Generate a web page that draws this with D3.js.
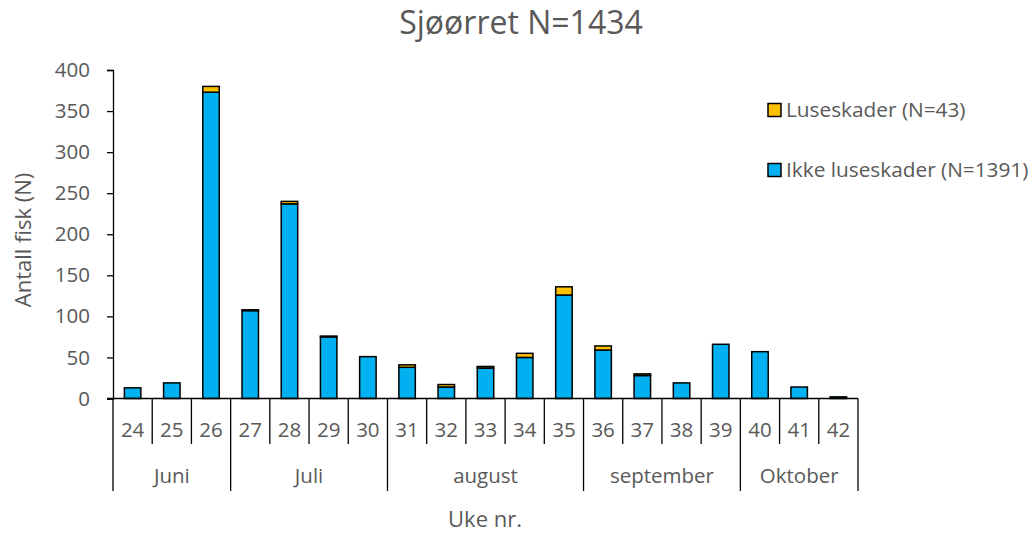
<!DOCTYPE html>
<html>
<head>
<meta charset="utf-8">
<script src="https://cdn.jsdelivr.net/npm/d3@7"></script>
<style>
  html, body { margin: 0; padding: 0; background: #fff; }
  svg { display: block; }
  text { font-family: "Open Sans", "Noto Sans", sans-serif; fill: #595959; }
</style>
</head>
<body>
<svg id="chart" width="1035" height="535"></svg>
<script>
// ---- Data ----
const weeks = ["24","25","26","27","28","29","30","31","32","33","34","35","36","37","38","39","40","41","42"];
const months = ["Juni","Juni","Juni","Juli","Juli","Juli","Juli","august","august","august","august","august","september","september","september","september","Oktober","Oktober","Oktober"];
const ikkeLuseskader = [13, 19, 373, 107, 237, 75, 51, 38, 14, 37, 50, 126, 59, 28, 19, 66, 57, 14, 2];
const luseskader     = [0, 0, 7, 1, 3, 1, 0, 3, 3, 2, 5, 10, 5, 2, 0, 0, 0, 0, 0];
const yTicks = [0, 50, 100, 150, 200, 250, 300, 350, 400];
const seriesNames = ["Luseskader (N=43)", "Ikke luseskader (N=1391)"];
const titleText = "Sjøørret N=1434";
const yLabel = "Antall fisk (N)";
const xLabel = "Uke nr.";

(function () {
const colBlue = "#00B0F0", colYellow = "#FFC000";
const tickFont = "20.5px", axisTitleFont = "22px";

const svg = d3.select("#chart");
const pLeft = 113, pRight = 858, pTop = 70, pBottom = 398.5;

const x = d3.scaleBand().domain(weeks).range([pLeft, pRight]).paddingInner(0.58).paddingOuter(0.29);
const xb = d3.scaleBand().domain(weeks).range([pLeft, pRight]);
const y = d3.scaleLinear().domain([0, 400]).range([pBottom, pTop]);

// Title
svg.append("text").attr("x", 521).attr("y", 34).attr("text-anchor", "middle")
  .style("font-size", "32px").text(titleText);

// Y axis
const yAxis = svg.append("g").attr("transform", `translate(${pLeft},0)`)
  .call(d3.axisLeft(y).tickValues(yTicks).tickSize(6).tickPadding(17));
yAxis.select(".domain").attr("stroke", "#000").attr("stroke-width", 1.3);
yAxis.selectAll(".tick line").attr("stroke", "#000").attr("stroke-width", 1.3);
yAxis.selectAll(".tick text").style("font-size", tickFont).style("font-family", "'Open Sans', sans-serif").attr("fill", "#595959");

// Y label
svg.append("text").attr("transform", `translate(31,${240}) rotate(-90)`)
  .attr("text-anchor", "middle").style("font-size", axisTitleFont).text(yLabel);

// Bars
const stacked = weeks.map((w, i) => ({ w, a: ikkeLuseskader[i], b: luseskader[i] }));
const g = svg.append("g");
g.selectAll("rect.blue").data(stacked).join("rect").attr("class", "blue")
  .attr("x", d => x(d.w)).attr("width", x.bandwidth())
  .attr("y", d => y(d.a)).attr("height", d => y(0) - y(d.a))
  .attr("fill", colBlue).attr("stroke", "#000").attr("stroke-width", 1.5);
g.selectAll("rect.yellow").data(stacked.filter(d => d.b > 0)).join("rect").attr("class", "yellow")
  .attr("x", d => x(d.w)).attr("width", x.bandwidth())
  .attr("y", d => y(d.a + d.b)).attr("height", d => y(d.a) - y(d.a + d.b))
  .attr("fill", colYellow).attr("stroke", "#000").attr("stroke-width", 1.5);

// X axis baseline
svg.append("line").attr("x1", pLeft - 6).attr("x2", pRight).attr("y1", y(0)).attr("y2", y(0))
  .attr("stroke", "#000").attr("stroke-width", 1.3);

// Week / month separators
const weekBottom = 444, monthBottom = 491;
const bounds = d3.range(weeks.length + 1).map(i => i < weeks.length ? xb(weeks[i]) : pRight);
bounds.forEach((bx, i) => {
  const isMonth = i === 0 || i === weeks.length || months[i] !== months[i - 1];
  svg.append("line").attr("x1", bx).attr("x2", bx).attr("y1", y(0)).attr("y2", isMonth ? monthBottom : weekBottom)
    .attr("stroke", "#000").attr("stroke-width", 1.3);
});

// Week labels
svg.append("g").selectAll("text").data(weeks).join("text")
  .attr("x", d => xb(d) + xb.bandwidth() / 2).attr("y", 437)
  .attr("text-anchor", "middle").style("font-size", tickFont).text(d => d);

// Month labels
const monthGroups = d3.groups(weeks.map((w, i) => ({ w, m: months[i] })), d => d.m);
svg.append("g").selectAll("text").data(monthGroups).join("text")
  .attr("x", d => (xb(d[1][0].w) + xb(d[1][d[1].length - 1].w) + xb.bandwidth()) / 2)
  .attr("y", 483).attr("text-anchor", "middle").style("font-size", tickFont).text(d => d[0]);

// X label
svg.append("text").attr("x", 485).attr("y", 527).attr("text-anchor", "middle")
  .style("font-size", axisTitleFont).text(xLabel);

// Legend
const legend = [
  { name: seriesNames[0], color: colYellow, y: 110 },
  { name: seriesNames[1], color: colBlue, y: 170 }
];
const lg = svg.append("g").selectAll("g").data(legend).join("g");
lg.append("rect").attr("x", 768).attr("y", d => d.y - 6.5).attr("width", 13).attr("height", 13)
  .attr("fill", d => d.color).attr("stroke", "#000").attr("stroke-width", 1.5);
lg.append("text").attr("x", 786).attr("y", d => d.y + 7).style("font-size", "20.8px").text(d => d.name);
})();
</script>
</body>
</html>
